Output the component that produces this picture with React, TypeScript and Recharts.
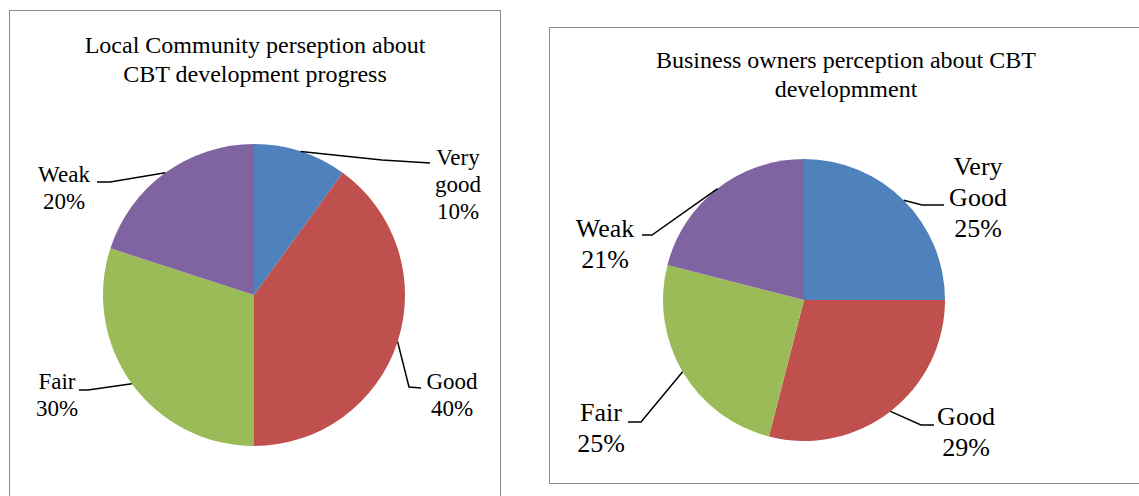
import { PieChart, Pie, Cell } from 'recharts';

// slice names and values
const localNames = ['Very good', 'Good', 'Fair', 'Weak'];
const localValues = [10, 40, 30, 20];

const ownerNames = ['Very Good', 'Good', 'Fair', 'Weak'];
const ownerValues = [25, 29, 25, 21];

const COLORS = ['#4F81BD', '#C0504D', '#9BBB59', '#8064A2'];

const localData = localNames.map((name, i) => ({ name, value: localValues[i] }));
const ownerData = ownerNames.map((name, i) => ({ name, value: ownerValues[i] }));

// label placement relative to the pie centre: elbow, line end, text centre + first baseline
const localLabelPos = [
  { ex: 128, ey: -135, lx: 176, ly: -132, tx: 204, ty: -130 },
  { ex: 155, ey: 92, lx: 167, ly: 93, tx: 198, ty: 94 },
  { ex: -166, ey: 95, lx: -175, ly: 95, tx: -197, ty: 94 },
  { ex: -144, ey: -113, lx: -157, ly: -113, tx: -190, ty: -113 },
];
const ownerLabelPos = [
  { ex: 118, ey: -95, lx: 140, ly: -95, tx: 174, ty: -125 },
  { ex: 117, ey: 125, lx: 130, ly: 125, tx: 162, ty: 125 },
  { ex: -163, ey: 122, lx: -176, ly: 122, tx: -203, ty: 121 },
  { ex: -152, ey: -65, lx: -162, ly: -65, tx: -199, ty: -63 },
];

const RAD = Math.PI / 180;
const FONT = 'Liberation Serif';

function makeLabel(pos: any[], fontSize: number, lineH: number) {
  return (props: any) => {
    const { cx, cy, midAngle, outerRadius, index, name, percent } = props;
    const p = pos[index];
    const sx = cx + outerRadius * Math.cos(-midAngle * RAD);
    const sy = cy + outerRadius * Math.sin(-midAngle * RAD);
    const lines = [...String(name).split(' '), `${Math.round(percent * 100)}%`];
    return (
      <g key={`lbl-${index}`} style={{ fontFamily: FONT }}>
        <polyline
          points={`${sx},${sy} ${cx + p.ex},${cy + p.ey} ${cx + p.lx},${cy + p.ly}`}
          fill="none"
          stroke="#000"
          strokeWidth={1.5}
        />
        {lines.map((t, i) => (
          <text
            key={i}
            x={cx + p.tx}
            y={cy + p.ty + i * lineH}
            textAnchor="middle"
            fontFamily={FONT}
            fontSize={fontSize}
            style={{ fontFamily: FONT, fontSize }}
            fill="#000"
          >
            {t}
          </text>
        ))}
      </g>
    );
  };
}

const titleStyle = {
  position: 'absolute' as const,
  textAlign: 'center' as const,
  fontFamily: FONT,
  fontSize: 24,
  lineHeight: '29px',
  color: '#000',
};

export default function App() {
  return (
    <div
      style={{
        position: 'absolute',
        left: 0,
        top: 0,
        width: 1139,
        height: 496,
        overflow: 'hidden',
        background: '#fff',
        fontFamily: FONT,
      }}
    >
      {/* frames */}
      <div style={{ position: 'absolute', left: 9, top: 10, width: 492, height: 520, border: '1px solid #8c8c8c', boxSizing: 'border-box' }} />
      <div style={{ position: 'absolute', left: 549, top: 27, width: 620, height: 457, border: '1px solid #8c8c8c', boxSizing: 'border-box' }} />

      {/* titles */}
      <div style={{ ...titleStyle, left: 9, width: 492, top: 31 }}>
        Local Community perseption about
        <br />
        CBT development progress
      </div>
      <div style={{ ...titleStyle, left: 600, width: 492, top: 46 }}>
        Business owners perception about CBT
        <br />
        developmment
      </div>

      <div style={{ position: 'absolute', left: 0, top: 0 }}>
        <PieChart width={1139} height={496} margin={{ top: 0, right: 0, bottom: 0, left: 0 }} style={{ fontFamily: FONT }}>
          <Pie
            data={localData}
            dataKey="value"
            nameKey="name"
            cx={254}
            cy={295}
            outerRadius={151}
            startAngle={90}
            endAngle={-270}
            stroke="none"
            labelLine={false}
            label={makeLabel(localLabelPos, 23, 27)}
            isAnimationActive={false}
          >
            {localData.map((entry, index) => (
              <Cell key={`l-${index}`} fill={COLORS[index % COLORS.length]} />
            ))}
          </Pie>
          <Pie
            data={ownerData}
            dataKey="value"
            nameKey="name"
            cx={804}
            cy={300}
            outerRadius={141}
            startAngle={90}
            endAngle={-270}
            stroke="none"
            labelLine={false}
            label={makeLabel(ownerLabelPos, 26, 31)}
            isAnimationActive={false}
          >
            {ownerData.map((entry, index) => (
              <Cell key={`o-${index}`} fill={COLORS[index % COLORS.length]} />
            ))}
          </Pie>
        </PieChart>
      </div>
    </div>
  );
}
